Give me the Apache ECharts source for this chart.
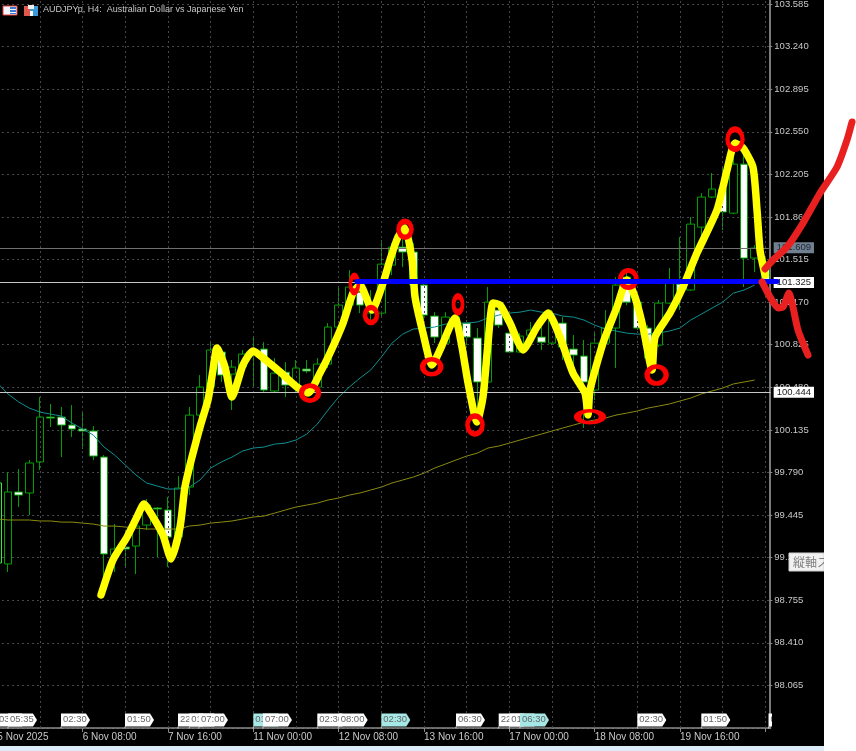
<!DOCTYPE html>
<html><head><meta charset="utf-8">
<style>html,body{margin:0;padding:0;background:#fff}#c{width:856px;height:751px}</style>
<script src="https://cdn.jsdelivr.net/npm/echarts@6/dist/echarts.min.js"></script>
</head><body><div id="c"></div>
<script>
// [open, close, low, high], one row per 4-hour candle
const candles = [
[99.057,99.705,99.041,99.729],[99.049,99.632,98.984,99.794],[99.632,99.607,99.510,99.818],[99.624,99.867,99.445,99.891],
[99.875,100.239,99.810,100.401],[100.239,100.231,100.158,100.345],[100.239,100.174,99.915,100.320],[100.174,100.142,100.077,100.336],
[100.142,100.126,99.980,100.280],[100.126,99.923,99.891,100.166],[99.915,99.130,98.919,99.931],[99.121,99.170,98.984,99.373],
[99.186,99.170,99.024,99.324],[99.194,99.356,98.967,99.405],[99.364,99.526,99.324,99.575],[99.502,99.494,99.105,99.510],
[99.486,99.267,99.024,99.591],[99.267,99.664,99.218,99.761],[99.672,100.255,99.607,100.320],[100.255,100.482,100.215,100.579],
[100.482,100.782,100.458,100.838],[100.766,100.579,100.523,100.782],[100.587,100.644,100.296,100.701],[100.644,100.749,100.636,100.782],
[100.749,100.782,100.482,100.887],[100.790,100.458,100.441,100.846],[100.450,100.595,100.441,100.717],[100.603,100.498,100.401,100.684],
[100.482,100.636,100.441,100.701],[100.628,100.612,100.595,100.701],[100.482,100.668,100.458,100.717],[100.668,100.968,100.636,101.000],
[100.968,101.146,100.944,101.284],[101.146,101.292,101.130,101.430],[101.251,101.146,101.081,101.333],[101.081,101.146,100.984,101.268],
[101.081,101.478,101.049,101.673],[101.470,101.616,101.389,101.648],[101.616,101.576,101.454,101.754],[101.576,101.308,101.268,101.648],
[101.308,101.065,101.025,101.324],[101.057,100.887,100.838,101.089],[100.838,101.049,100.822,101.089],[101.049,100.984,100.944,101.106],
[101.000,100.887,100.822,101.025],[100.879,100.523,100.296,100.960],[100.523,101.170,100.458,101.292],[101.106,100.984,100.960,101.170],
[100.919,100.766,100.757,100.968],[100.766,100.895,100.757,100.919],[100.903,100.944,100.863,101.009],[100.887,100.846,100.782,100.968],
[100.838,101.025,100.822,101.106],[101.000,100.806,100.701,101.049],[100.790,100.741,100.603,100.903],[100.733,100.523,100.150,100.863],
[100.458,100.838,100.377,100.919],[100.838,100.960,100.822,101.106],[100.960,101.308,100.636,101.373],[101.373,101.170,101.146,101.430],
[101.170,100.960,100.944,101.211],[100.960,100.717,100.644,100.984],[100.822,101.162,100.806,101.187],[101.162,101.333,101.154,101.446],
[101.316,101.251,101.106,101.697],[101.268,101.802,101.260,101.859],[101.778,102.021,101.697,102.053],[102.021,102.086,102.013,102.216],
[102.086,101.900,101.754,102.256],[101.891,102.288,101.883,102.459],[102.288,101.527,101.292,102.426],[101.527,101.608,101.414,101.632],
[101.495,101.325,101.284,101.527]];

const fastMA = [100.515,100.426,100.361,100.312,100.279,100.263,100.247,100.190,100.142,100.093,99.996,99.931,99.850,99.769,99.705,99.680,99.656,99.656,99.672,99.729,99.826,99.875,99.915,99.964,99.988,99.996,100.020,100.028,100.053,100.101,100.182,100.296,100.401,100.482,100.555,100.620,100.725,100.838,100.911,100.952,100.960,100.968,100.992,101.000,101.000,101.009,101.041,101.065,101.081,101.089,101.106,101.089,101.081,101.057,101.049,101.025,100.984,100.952,100.936,100.919,100.911,100.911,100.919,100.936,100.960,101.025,101.073,101.122,101.170,101.243,101.268,101.308,null];

const slowMA = [99.413,99.405,99.405,99.405,99.397,99.397,99.388,99.388,99.380,99.372,99.356,99.356,99.348,99.340,99.332,99.332,99.332,99.332,99.356,99.364,99.380,99.388,99.397,99.413,99.429,99.437,99.461,99.486,99.510,99.526,99.542,99.567,99.583,99.607,99.624,99.648,99.672,99.705,99.729,99.753,99.785,99.826,99.858,99.891,99.923,99.947,99.988,100.004,100.028,100.053,100.077,100.101,100.126,100.150,100.174,100.198,100.215,100.231,100.255,100.271,100.288,100.312,100.328,100.345,100.369,100.393,100.426,100.450,100.474,100.507,100.523,100.539,null];

const dateTicks = ['5 Nov 2025','6 Nov 08:00','7 Nov 16:00','11 Nov 00:00','12 Nov 08:00','13 Nov 16:00','17 Nov 00:00','18 Nov 08:00','19 Nov 16:00',''];
const priceLevels = [101.609, 101.325, 100.444];

// calendar-event tags: candle position, time text, highlighted flag
const eventPos = [-1.03,0,4.97,10.97,15.94,17,17.9,23,23.9,29,31,35,42,46,47,48,59,65,71.3];
const eventTimes = ['03:30','05:35','02:30','01:50','22:30','01:50','07:00','01:50','07:00','02:30','08:00','02:30','06:30','22:30','01:50','06:30','02:30','01:50','02:30'];
const eventHot = [0,0,0,0,0,0,0,1,0,0,0,1,0,0,0,1,0,0,0];

// hand-drawn annotations: [candle position, price]
const yellowPath = [[8.72,98.797],[9.84,99.081],[11.16,99.267],[12.09,99.429],[12.75,99.534],[13.59,99.429],[14.53,99.283],[15.28,99.089],[16.13,99.348],[16.59,99.672],[17.25,99.915],[18,100.158],[18.75,100.377],[19.22,100.620],[19.59,100.798],[20.34,100.644],[21,100.401],[22.03,100.660],[22.97,100.774],[24.38,100.684],[25.5,100.604],[27.09,100.482],[28.13,100.433],[29.25,100.595],[30.19,100.757],[31.41,101.000],[32.34,101.243],[33,101.308],[34.13,101.106],[35.16,101.324],[35.81,101.511],[36.56,101.697],[37.22,101.770],[37.88,101.511],[38.16,101.211],[38.91,100.919],[39.75,100.660],[40.5,100.782],[41.91,101.041],[42.56,100.806],[43.13,100.514],[43.97,100.198],[44.53,100.401],[45,100.838],[45.47,101.162],[46.13,101.146],[47.06,101.000],[48.28,100.782],[49.59,100.968],[50.63,101.081],[51.75,100.887],[52.97,100.595],[54.09,100.433],[54.38,100.255],[54.56,100.458],[55.78,100.838],[57.09,101.130],[58.03,101.349],[58.78,101.211],[59.53,100.968],[60.38,100.620],[60.66,100.887],[62.06,101.081],[63.28,101.292],[64.59,101.567],[66.47,101.916],[67.41,102.240],[68.16,102.459],[68.91,102.418],[69.84,102.264],[70.22,101.916],[70.5,101.592],[70.97,101.389]];
const redUpPath = [[70.97,101.438],[71.72,101.511],[73.03,101.616],[74.53,101.810],[76.13,102.053],[77.72,102.264],[78.66,102.483],[79.13,102.629]];
const redDownPath = [[70.69,101.333],[71.44,101.211],[72.19,101.122],[72.66,101.130],[73.22,101.243],[73.59,101.130],[74.06,100.944],[75,100.741]];
const bluePath = [[32.72,101.337],[72.09,101.337]];
const swingPoints = [[28.31,100.433],[32.47,101.316],[34.03,101.065],[37.22,101.759],[39.72,100.646],[42.19,101.152],[43.78,100.174],[54.56,100.241],[58.16,101.357],[60.81,100.579],[68.16,102.489]];
const tagPrice = 97.784;

// ---- styling and layout ----
const ringSizes = [[17,15],[8,16],[12,15],[13,16],[18,15],[9,16],[15,18],[25,12],[16,17],[19,17],[15,20]];
const categories = candles.map((_, i) => i % 8 === 0 ? dateTicks[i / 8] : ' ');
const vLines = candles.map((_, i) => i).filter(i => i % 4 === 0 && i > 0).map(i => ({xAxis: i}));
const candleItems = candles.map((c, i) => i === 0 ? {value:c, itemStyle:{borderColor:'#33ee33'}} : c);
const font = '"Liberation Sans", sans-serif';
const pathSeries = (data, color, width, z, smooth) => ({
  type:'line', xAxisIndex:1, yAxisIndex:1, data, z, showSymbol:false, symbol:'none', silent:true, clip:false, smooth,
  lineStyle:{color, width, cap:'round', join:'round'}, itemStyle:{color}
});
const levelStyles = [
  {line:'#6f6f6f', bg:'#708090', fg:'#1c2530'},
  {line:'#c8c8c8', bg:'#ffffff', fg:'#222222'},
  {line:'#c8c8c8', bg:'#ffffff', fg:'#222222'}
];

const option = {
  animation:false,
  backgroundColor:'#ffffff',
  title:{text:'AUDJPYp, H4:  Australian Dollar vs Japanese Yen', left:38, top:0, textStyle:{color:'#c8c8c8', fontSize:9, fontWeight:'normal', fontFamily:font}},
  graphic:[
    {type:'rect', z:-10, shape:{x:0,y:0,width:824,height:746}, style:{fill:'#000'}},
    {type:'rect', z:-10, shape:{x:0,y:746,width:824,height:5}, style:{fill:'#dcebf8'}},
    {type:'rect', z:50, shape:{x:3,y:6,width:14,height:9}, style:{fill:'#f4f4ff', stroke:'#e2433a', lineWidth:1}},
    {type:'rect', z:50, shape:{x:10,y:7,width:6,height:2}, style:{fill:'#3a7bd5'}},
    {type:'rect', z:50, shape:{x:10,y:10,width:6,height:2}, style:{fill:'#3a7bd5'}},
    {type:'rect', z:50, shape:{x:10,y:13,width:6,height:1}, style:{fill:'#3a7bd5'}},
    {type:'rect', z:50, shape:{x:24,y:6,width:6,height:10}, style:{fill:'#e2574c'}},
    {type:'rect', z:50, shape:{x:30,y:6,width:8,height:10}, style:{fill:'#3a9ad9'}},
    {type:'rect', z:50, shape:{x:28,y:5,width:6,height:4}, style:{fill:'#eeeeee'}},
    {type:'rect', z:50, shape:{x:30,y:11,width:3,height:5}, style:{fill:'#ffffff'}},
    {type:'rect', z:60, shape:{x:789,y:553,width:35,height:18}, style:{fill:'#f1f1f1', stroke:'#d0d0d0', lineWidth:1}},
    {type:'text', z:61, x:793, y:556, style:{text:'縦軸ス', fill:'#808080', fontSize:12, fontFamily:'"Noto Sans CJK JP"'}},
    {type:'rect', z:62, shape:{x:824,y:550,width:32,height:24}, style:{fill:'#ffffff'}}
  ],
  grid:[
    {left:-8, top:-38.55, width:778.67, height:766.55, outerBoundsMode:'none', containLabel:false},
    {left:0, top:0, width:856, height:751, outerBoundsMode:'none', containLabel:false}
  ],
  xAxis:[
    {type:'category', gridIndex:0, data:categories, boundaryGap:true,
     axisLine:{lineStyle:{color:'#8a8a8a', width:1.5}},
     axisTick:{show:true, alignWithLabel:true, interval:7, length:4, lineStyle:{color:'#8a8a8a'}},
     axisLabel:{interval:7, align:'left', margin:4, color:'#c8c8c8', fontSize:10, fontFamily:font, showMinLabel:true, hideOverlap:false},
     splitLine:{show:false}},
    {type:'value', gridIndex:1, min:-0.75, max:79.5, show:false}
  ],
  yAxis:[
    {type:'value', gridIndex:0, min:97.72, max:103.93, interval:0.345, position:'right', offset:-1.33,
     axisLine:{show:true, lineStyle:{color:'#7a7a7a', width:2}},
     axisTick:{show:true, length:3, lineStyle:{color:'#8a8a8a'}},
     axisLabel:{color:'#c8c8c8', fontSize:9.5, fontFamily:font, margin:5, showMaxLabel:false, showMinLabel:false, formatter:v=>v.toFixed(3)},
     splitLine:{show:true, lineStyle:{color:'#44474d', type:[2,3], width:1}}},
    {type:'value', gridIndex:1, min:97.533, max:103.617, show:false}
  ],
  series:[
    {type:'line', data:categories.map(()=>null), silent:true, z:1, showSymbol:false,
     markLine:{silent:true, symbol:'none', animation:false, label:{show:false},
       lineStyle:{color:'#44474d', type:[2,3], width:1}, data:vLines}},
    {type:'candlestick', data:candleItems, barWidth:8, z:3, silent:true,
     itemStyle:{color:'#000000', color0:'#ffffff', borderColor:'#00a000', borderColor0:'#00a000', borderWidth:1}},
    {type:'line', data:slowMA, z:4, showSymbol:false, symbol:'none', silent:true, lineStyle:{color:'#8a8a10', width:1}},
    {type:'line', data:fastMA, z:4, showSymbol:false, symbol:'none', silent:true, lineStyle:{color:'#0f8f8f', width:1}},
    {type:'line', data:categories.map(()=>null), silent:true, z:4, showSymbol:false,
     markLine:{silent:true, symbol:'none', animation:false,
       data:priceLevels.map((v,i)=>({yAxis:v,
         lineStyle:{color:levelStyles[i].line, type:'solid', width:1},
         label:{show:true, position:'end', distance:3, formatter:v.toFixed(3), color:levelStyles[i].fg, backgroundColor:levelStyles[i].bg,
           fontSize:9.5, fontFamily:font, padding:[1,3,0,3]}}))}},
    {type:'custom', xAxisIndex:1, yAxisIndex:1, z:5, silent:true, clip:false,
     data:eventPos.map((k)=>[k,tagPrice]),
     renderItem:(params,api)=>{
       const p = api.coord([api.value(0),api.value(1)]);
       const i = params.dataIndex, x=p[0], y0=p[1]-6.5, y1=p[1]+6.5, w=29;
       const fill = eventHot[i] ? '#a5e8e6' : '#ffffff';
       return {type:'group',
         clipPath:{type:'rect', shape:{x:-30,y:0,width:802,height:751}},
         children:[
         {type:'line', shape:{x1:x,y1:y1,x2:x,y2:y1+2}, style:{stroke:'#c8c8c8',lineWidth:1}},
         {type:'polygon', shape:{points:[[x,y0],[x+w-4,y0],[x+w,p[1]],[x+w-4,y1],[x,y1]]}, style:{fill}},
         {type:'text', x:x+2, y:p[1]-5.5, style:{text:eventTimes[i], fill:'#666666', fontSize:9.5, fontFamily:font}}
       ]};
     }},
    pathSeries(yellowPath,'#ffff00',7.5,6,0.2),
    {type:'scatter', xAxisIndex:1, yAxisIndex:1, z:7, silent:true, clip:false,
     data:swingPoints.map((d,i)=>({value:d, symbolSize:ringSizes[i]})), symbol:'circle',
     itemStyle:{color:'rgba(0,0,0,0)', borderColor:'#ff0000', borderWidth:5, opacity:1}},
    pathSeries(bluePath,'#0000ff',5,8,false),
    pathSeries(redUpPath,'#e8201f',7,9,0.2),
    pathSeries(redDownPath,'#e8201f',7,9,0.2)
  ]
};
echarts.init(document.getElementById('c'),null,{renderer:'canvas'}).setOption(option);
</script></body></html>
